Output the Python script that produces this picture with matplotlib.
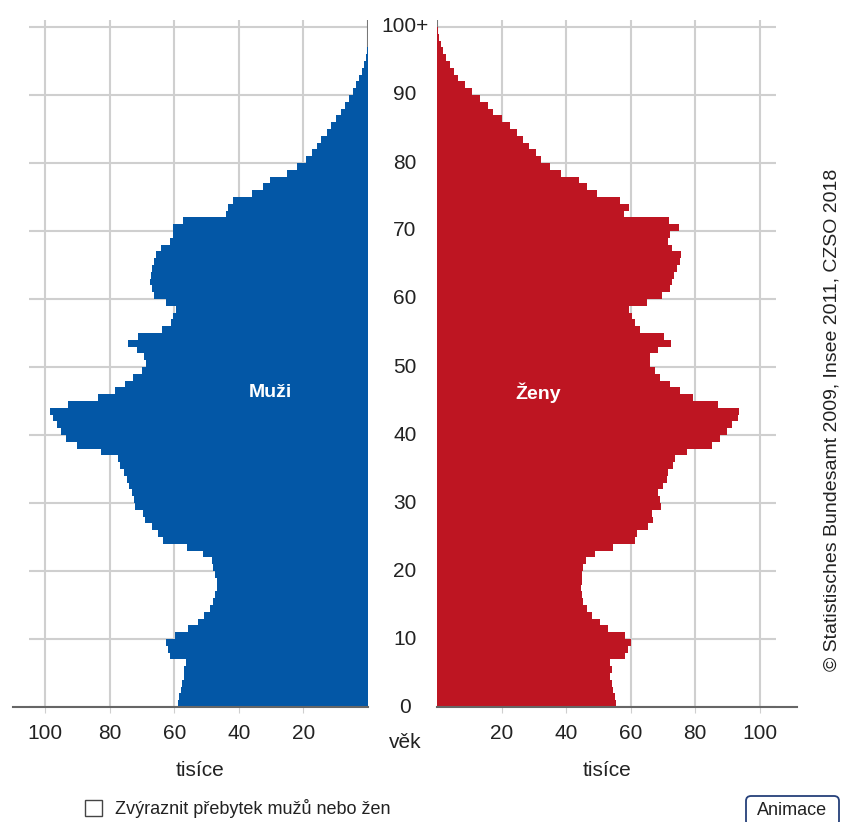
import matplotlib.pyplot as plt
import matplotlib.transforms as mtransforms
from matplotlib.patches import Rectangle, FancyBboxPatch

plt.rcParams['font.family'] = ['Liberation Sans', 'DejaVu Sans']

# age 0 .. 100 (last = 100+), thousands
ages = list(range(101))
muzi = [59, 58.5, 58, 57.5, 57, 57, 56.5, 61.4, 62, 62.7,
        59.8, 55.7, 52.6, 50.8, 49, 47.9, 47.4, 46.7, 46.9, 47.4,
        47.9, 48.4, 51, 56.2, 63.4, 65, 67, 69.1, 69.6, 72.2,
        72.5, 73, 74, 74.8, 75.7, 76.7, 77.4, 82.6, 90.3, 93.5,
        95, 96.5, 97.6, 98.6, 93, 83.6, 78.4, 75.3, 72.7, 70,
        68.7, 69.3, 71.5, 74.3, 71.2, 63.9, 60.9, 60.4, 59.5, 62.6,
        66.3, 67, 67.6, 67.2, 66.8, 66.3, 65.7, 64, 61.5, 60.4,
        60.5, 57.3, 44, 43.5, 41.8, 36, 32.5, 30.4, 25, 22.1,
        19.2, 17.5, 15.9, 14.6, 12.8, 11.5, 10, 8.4, 7, 5.8,
        4.8, 3.8, 2.8, 1.9, 1.1, 0.6, 0.3, 0.15, 0.1, 0.05,
        0.05]
zeny = [55.5, 55.2, 54.7, 54.2, 53.7, 54.2, 53.7, 58.3, 59.3, 60.2,
        58.3, 53.1, 50.5, 48, 46.4, 45.4, 44.9, 44.7, 44.9, 44.9,
        45.4, 46.2, 49, 54.7, 61.4, 61.9, 65.5, 67.1, 66.6, 69.6,
        69.2, 68.6, 70.2, 71.2, 71.7, 73.3, 73.8, 77.4, 85.2, 87.8,
        89.8, 91.4, 93.4, 93.7, 87.2, 79.5, 75.3, 72.3, 69.2, 67.6,
        65.9, 66.2, 68.5, 72.7, 70.3, 63, 61.5, 60.5, 59.4, 65.1,
        69.8, 72.4, 72.9, 73.4, 74.4, 75.5, 75.8, 72.9, 71.6, 72.4,
        75, 71.9, 57.9, 59.4, 56.8, 49.6, 46.5, 43.9, 38.5, 35,
        32.2, 30.7, 28.6, 26.8, 24.8, 22.7, 20.1, 17.5, 15.7, 13.3,
        10.9, 8.7, 6.6, 5.3, 4, 2.8, 1.9, 1.2, 0.7, 0.3,
        0.2]

x_ticks = [20, 40, 60, 80, 100]
age_ticks = [0, 10, 20, 30, 40, 50, 60, 70, 80, 90, 100]
age_labels = ['0', '10', '20', '30', '40', '50', '60', '70', '80', '90', '100+']

blue = '#0357a6'
red = '#be1522'
grid = '#cfcfcf'

fig = plt.figure(figsize=(8.51, 8.22), dpi=100)
ax_l = fig.add_axes([13 / 851, 115 / 822, 355 / 851, 686.8 / 822])
ax_r = fig.add_axes([437 / 851, 115 / 822, 360 / 851, 686.8 / 822])

for ax, data, col, gmax in [(ax_l, muzi, blue, 105), (ax_r, zeny, red, 105)]:
    ax.hlines(age_ticks, 0, gmax, color=grid, lw=1.5, zorder=0)
    ax.vlines(x_ticks, 0, 101, color=grid, lw=1.5, zorder=0)
    ax.barh(ages[:100], data[:100], height=1, align='edge', color=col,
            linewidth=0, zorder=2)
    ax.set_ylim(0, 101)
    ax.set_yticks([])
    ax.set_xticks(x_ticks)
    ax.set_xticklabels([str(t) for t in x_ticks])
    ax.tick_params(axis='x', length=4, color=grid, pad=8, labelsize=15,
                   labelcolor='#222222')
    for s in ['top', 'left', 'right']:
        ax.spines[s].set_visible(False)
    ax.spines['bottom'].set_color('#666666')
    ax.spines['bottom'].set_linewidth(1.5)

ax_l.set_xlim(110, 0)
ax_r.set_xlim(0, 360 / 3.225)
ax_l.axvline(0, color='#777777', lw=1.5, zorder=1)
ax_r.axvline(0, color='#777777', lw=1.5, zorder=1)

ax_l.text(30.4, 46.2, 'Muži', color='white', fontsize=14, fontweight='bold',
          ha='center', va='center', zorder=3)
ax_r.text(31.3, 46.2, 'Ženy', color='white', fontsize=14, fontweight='bold',
          ha='center', va='center', zorder=3)

# age labels in the middle
trans = mtransforms.blended_transform_factory(fig.transFigure, ax_l.transData)
for a, lab in zip(age_ticks, age_labels):
    fig.text(405 / 851, a, lab, transform=trans, ha='center', va='center',
             fontsize=15, color='#222222')

fig.text(405 / 851, (822 - 742) / 822, 'věk', ha='center', va='center',
         fontsize=15, color='#222222')
fig.text(200 / 851, (822 - 770) / 822, 'tisíce', ha='center', va='center',
         fontsize=15, color='#222222')
fig.text(607 / 851, (822 - 770) / 822, 'tisíce', ha='center', va='center',
         fontsize=15, color='#222222')

fig.text(832 / 851, (822 - 420) / 822,
         '© Statistisches Bundesamt 2009, Insee 2011, CZSO 2018',
         rotation=90, ha='center', va='center', fontsize=14, color='#222222')

# checkbox and button
fig.patches.append(Rectangle((85 / 851, 6 / 822), 17 / 851, 16 / 822,
                             transform=fig.transFigure, fill=False,
                             edgecolor='#444444', lw=1))
fig.text(115 / 851, 14 / 822, 'Zvýraznit přebytek mužů nebo žen',
         ha='left', va='center', fontsize=13, color='#222222')
fig.patches.append(FancyBboxPatch((746 / 851, -4 / 822), 93 / 851, 30 / 822,
                                  boxstyle='round,pad=0,rounding_size=0.006',
                                  transform=fig.transFigure, facecolor='white',
                                  edgecolor='#25407a', lw=1.3))
fig.text(792 / 851, 12 / 822, 'Animace', ha='center', va='center',
         fontsize=13, color='#222222')

plt.savefig('out.png', dpi=100)
